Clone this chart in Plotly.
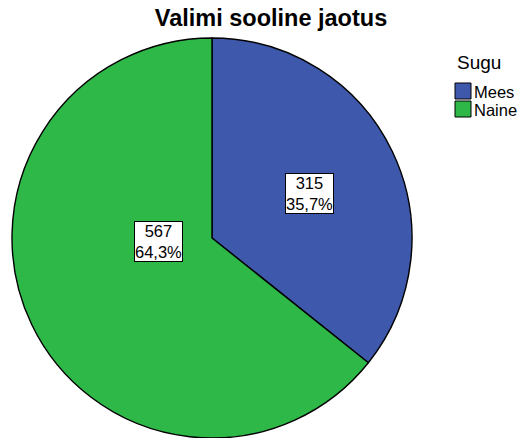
import plotly.graph_objects as go

W, H = 518, 438

labels = ["Mees", "Naine"]
counts = [315, 567]
percents = ["35,7%", "64,3%"]
colors = ["#3e58ac", "#2eb848"]
legend_title = "Sugu"

FONT = "Liberation Sans, Arial"

# pie placement in pixels (centre 212,238, radius 200)
cx, cy, r = 212, 238, 200

# where SPSS put the boxed labels (pixel centres)
label_pos = [(309, 193), (134, 241)]

fig = go.Figure(
    go.Pie(
        labels=labels,
        values=counts,
        sort=False,
        direction="clockwise",
        rotation=0,
        textinfo="none",
        marker=dict(colors=colors, line=dict(color="#000000", width=1.4)),
        domain=dict(
            x=[(cx - r) / W, (cx + r) / W],
            y=[(H - cy - r) / H, (H - cy + r) / H],
        ),
        hoverinfo="label+value+percent",
        showlegend=False,
    )
)

for (px, py), n, p in zip(label_pos, counts, percents):
    fig.add_annotation(
        x=px / W, y=1 - py / H, xref="paper", yref="paper",
        text=f"{n}<br>{p}",
        showarrow=False,
        font=dict(family=FONT, size=16.5, color="#000000"),
        bgcolor="#ffffff",
        bordercolor="#000000",
        borderwidth=1,
        borderpad=0,
        align="center",
    )

# hand-drawn legend, SPSS style (square swatch close to the text)
fig.add_annotation(
    x=479 / W, y=1 - 62 / H, xref="paper", yref="paper",
    text=legend_title, showarrow=False, xanchor="center", yanchor="middle",
    font=dict(family=FONT, size=19, color="#000000"),
)
for i, (lab, col) in enumerate(zip(labels, colors)):
    top = 83 + i * 18
    fig.add_shape(
        type="rect", xref="paper", yref="paper",
        x0=455 / W, x1=471 / W, y0=1 - (top + 16) / H, y1=1 - top / H,
        fillcolor=col, line=dict(color="#000000", width=1),
    )
    fig.add_annotation(
        x=472 / W, y=1 - (top + 8.5) / H, xref="paper", yref="paper",
        text=lab, showarrow=False, xanchor="left", yanchor="middle",
        font=dict(family=FONT, size=16.5, color="#000000"),
    )

fig.update_layout(
    width=W,
    height=H,
    margin=dict(l=0, r=0, t=0, b=0),
    paper_bgcolor="#ffffff",
    plot_bgcolor="#ffffff",
    showlegend=False,
    title=dict(
        text="<b>Valimi sooline jaotus</b>",
        x=271 / W,
        xanchor="center",
        y=1 - 18 / H,
        yanchor="middle",
        font=dict(family=FONT, size=23.5, color="#000000"),
    ),
)

# drop the browser's default 8px body margin so the figure sits at 0,0
fig.write_html(
    "out.html",
    config={"displayModeBar": False},
    post_script="document.body.style.margin='0';document.body.style.overflow='hidden';",
)
